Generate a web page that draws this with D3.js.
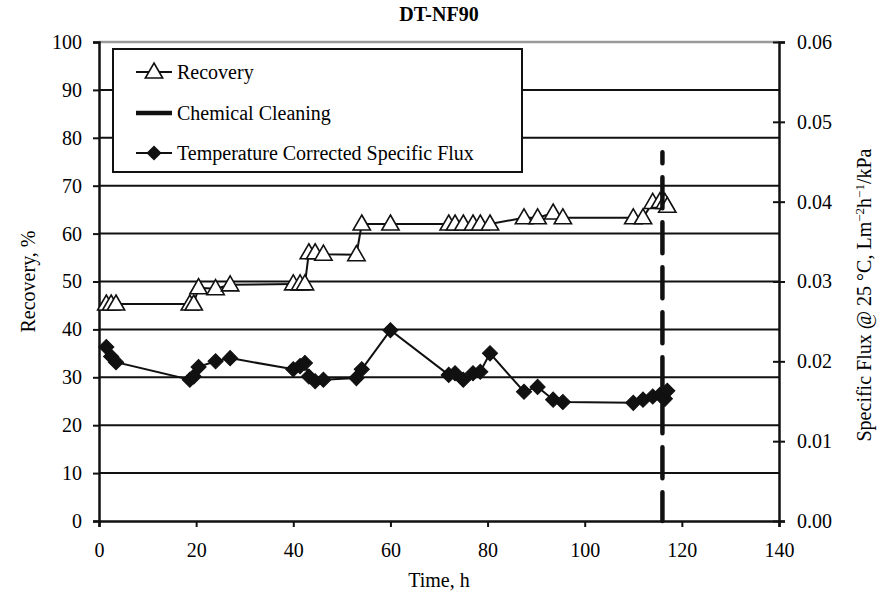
<!DOCTYPE html>
<html>
<head>
<meta charset="utf-8">
<script src="https://cdn.jsdelivr.net/npm/d3@7"></script>
<style>
  body { margin: 0; background: #fff; }
  svg text { font-family: "Liberation Serif", "Times New Roman", serif; fill: #000; }
</style>
</head>
<body>
<div id="chart"></div>
<script>
// Sampling times, h
const timeH = [1.5, 2.5, 3.5, 18.7, 19.5, 20.5, 24, 27, 40, 41.4, 42.4, 43.2, 44.5, 46.2, 53, 54.1, 60,
  72, 73.3, 75, 77, 78.5, 80.5, 87.5, 90.3, 93.5, 95.5, 110, 112, 114, 115.5, 116.5, 117];
// Recovery, %
const recovery = [45.3, 45.3, 45.3, 45.3, 45.3, 48.7, 48.5, 49.3, 49.5, 49.5, 49.5, 56, 56, 55.7, 55.6, 62, 62,
  62, 62, 62, 62, 62, 62, 63.3, 63.3, 64.3, 63.3, 63.3, 63.3, 66.5, 66.7, 66.5, 65.7];
// Temperature corrected specific flux, Lm-2h-1/kPa
const flux = [0.0218, 0.0206, 0.0199, 0.0177, 0.0181, 0.0193, 0.0200, 0.0204, 0.0190, 0.0194, 0.0198, 0.0181,
  0.0175, 0.0177, 0.0179, 0.0190, 0.0239, 0.0183, 0.0185, 0.0177, 0.0185, 0.0187, 0.0210, 0.0162, 0.0168,
  0.0152, 0.0149, 0.0148, 0.0152, 0.0156, 0.0158, 0.0153, 0.0163];
// Chemical cleaning marker (time, recovery-axis extent)
const cleaningTime = [116, 116];
const cleaningLevel = [0, 77];

const legendLabels = ["Recovery", "Chemical Cleaning", "Temperature Corrected Specific Flux"];

const width = 880, height = 593;
const plot = { left: 99, right: 779, top: 42, bottom: 521 };

const svg = d3.select("#chart").append("svg")
  .attr("width", width)
  .attr("height", height);

const x = d3.scaleLinear().domain([0, 140]).range([plot.left, plot.right]);
const yL = d3.scaleLinear().domain([0, 100]).range([plot.bottom, plot.top]);
const yR = d3.scaleLinear().domain([0, 0.06]).range([plot.bottom, plot.top]);

// gridlines
svg.append("g")
  .selectAll("line")
  .data(d3.range(10, 100, 10))
  .enter().append("line")
  .attr("x1", plot.left).attr("x2", plot.right)
  .attr("y1", d => yL(d)).attr("y2", d => yL(d))
  .attr("stroke", "#111").attr("stroke-width", 2);

// top border (grey)
svg.append("line")
  .attr("x1", plot.left).attr("x2", plot.right)
  .attr("y1", yL(100)).attr("y2", yL(100))
  .attr("stroke", "#9a9a9a").attr("stroke-width", 2.5);

// axes
const fontSize = "20px";
const xAxis = svg.append("g")
  .attr("transform", `translate(0,${plot.bottom})`)
  .call(d3.axisBottom(x).tickValues(d3.range(0, 141, 20)).tickSizeOuter(0).tickSize(6).tickPadding(16));
const leftAxis = svg.append("g")
  .attr("transform", `translate(${plot.left},0)`)
  .call(d3.axisLeft(yL).tickValues(d3.range(0, 101, 10)).tickSizeOuter(0).tickSize(6).tickPadding(11));
const rightAxis = svg.append("g")
  .attr("transform", `translate(${plot.right},0)`)
  .call(d3.axisRight(yR).tickValues(d3.range(0, 0.0601, 0.01)).tickFormat(d3.format(".2f"))
    .tickSizeOuter(0).tickSize(6).tickPadding(12));
rightAxis.selectAll(".tick line").attr("x1", -6);

[xAxis, leftAxis, rightAxis].forEach(function(a) {
  a.select(".domain").attr("stroke", "#111").attr("stroke-width", 2.5);
  a.selectAll(".tick line").attr("stroke", "#111").attr("stroke-width", 2);
  a.selectAll(".tick text").style("font-size", fontSize)
    .style("font-family", '"Liberation Serif", "Times New Roman", serif');
});

// axis titles
svg.append("text")
  .attr("x", 439).attr("y", 21)
  .attr("text-anchor", "middle")
  .style("font-size", "20px").style("font-weight", "bold")
  .text("DT-NF90");

svg.append("text")
  .attr("x", 439).attr("y", 587)
  .attr("text-anchor", "middle")
  .style("font-size", fontSize)
  .text("Time, h");

svg.append("text")
  .attr("transform", `translate(35,${(plot.top + plot.bottom) / 2}) rotate(-90)`)
  .attr("text-anchor", "middle")
  .style("font-size", fontSize)
  .text("Recovery, %");

const rTitle = svg.append("text")
  .attr("transform", `translate(871,295) rotate(-90)`)
  .attr("text-anchor", "middle")
  .style("font-size", fontSize);
rTitle.append("tspan").text("Specific Flux @ 25 °C, Lm");
rTitle.append("tspan").attr("dy", -7).style("font-size", "13px").text("−2");
rTitle.append("tspan").attr("dy", 7).text("h");
rTitle.append("tspan").attr("dy", -7).style("font-size", "13px").text("−1");
rTitle.append("tspan").attr("dy", 7).text("/kPa");

// series
const recData = timeH.map((t, i) => ({ t: t, v: recovery[i] }));
const fluxData = timeH.map((t, i) => ({ t: t, v: flux[i] }));

svg.append("path")
  .datum(recData)
  .attr("fill", "none").attr("stroke", "#111").attr("stroke-width", 2)
  .attr("d", d3.line().x(d => x(d.t)).y(d => yL(d.v)));

const triangle = d3.symbol().type(d3.symbolTriangle).size(130);
svg.append("g").selectAll("path")
  .data(recData)
  .enter().append("path")
  .attr("d", triangle)
  .attr("transform", d => `translate(${x(d.t)},${yL(d.v) + 1})`)
  .attr("fill", "#fff").attr("stroke", "#111").attr("stroke-width", 1.6);

svg.append("path")
  .datum(fluxData)
  .attr("fill", "none").attr("stroke", "#111").attr("stroke-width", 2)
  .attr("d", d3.line().x(d => x(d.t)).y(d => yR(d.v)));

const diamond = d3.symbol().type(d3.symbolSquare).size(115);
svg.append("g").selectAll("path")
  .data(fluxData)
  .enter().append("path")
  .attr("d", diamond)
  .attr("transform", d => `translate(${x(d.t)},${yR(d.v)}) rotate(45)`)
  .attr("fill", "#111").attr("stroke", "#111").attr("stroke-width", 1);

// chemical cleaning
svg.append("line")
  .attr("x1", x(cleaningTime[1])).attr("x2", x(cleaningTime[0]))
  .attr("y1", yL(cleaningLevel[1])).attr("y2", yL(cleaningLevel[0]))
  .attr("stroke", "#111").attr("stroke-width", 4.5)
  .attr("stroke-linecap", "round")
  .attr("stroke-dasharray", "31,14")
  .attr("stroke-dashoffset", 20);

// legend
const legend = svg.append("g");
legend.append("rect")
  .attr("x", 113).attr("y", 49).attr("width", 409).attr("height", 123)
  .attr("fill", "#fff").attr("stroke", "#111").attr("stroke-width", 2);

const rowY = [72, 113, 153];
legendLabels.forEach(function(label, i) {
  const g = legend.append("g").attr("transform", `translate(0,${rowY[i]})`);
  g.append("line")
    .attr("x1", 136).attr("x2", 172)
    .attr("stroke", "#111").attr("stroke-width", i === 1 ? 4.5 : 2);
  if (i === 0) {
    g.append("path").attr("d", triangle).attr("transform", "translate(154,1)")
      .attr("fill", "#fff").attr("stroke", "#111").attr("stroke-width", 1.6);
  } else if (i === 2) {
    g.append("path").attr("d", diamond).attr("transform", "translate(154,0) rotate(45)")
      .attr("fill", "#111");
  }
  g.append("text")
    .attr("x", 177).attr("y", 7)
    .style("font-size", fontSize)
    .text(label);
});
</script>
</body>
</html>
